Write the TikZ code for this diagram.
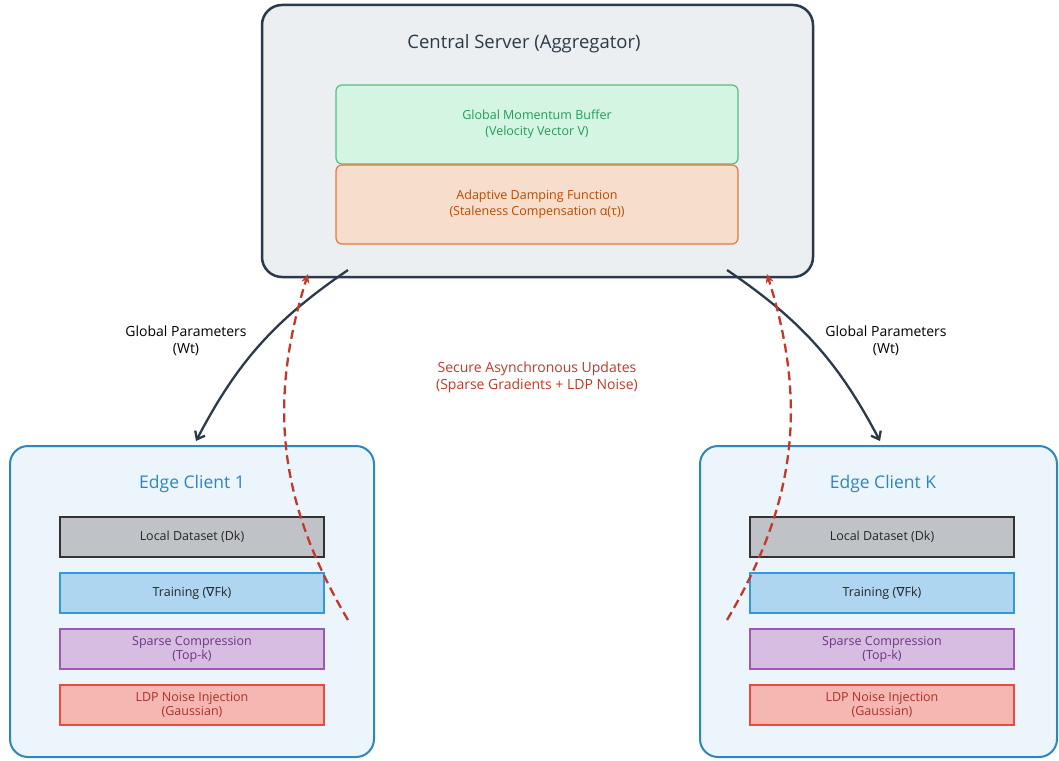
\documentclass[tikz,border=0pt]{standalone}
\usepackage{fontspec}
\setmainfont{Open Sans}
\newfontfamily\symfont{DejaVu Sans}
\usepackage{tikz}
\usetikzlibrary{arrows.meta,positioning,calc}

\definecolor{navy}{HTML}{2B3A4A}
\definecolor{srvfill}{HTML}{ECEFF1}
\definecolor{cliblue}{HTML}{2E86C1}
\definecolor{clifill}{HTML}{EBF5FB}
\definecolor{updred}{HTML}{C0392B}
\definecolor{momfill}{HTML}{D5F5E3}
\definecolor{momline}{HTML}{52BE80}
\definecolor{momtext}{HTML}{239B56}
\definecolor{dmpfill}{HTML}{F6DDCC}
\definecolor{dmpline}{HTML}{E5793D}
\definecolor{dmptext}{HTML}{BA4A00}
\definecolor{datfill}{HTML}{BFC3C7}
\definecolor{trnfill}{HTML}{AED6F1}
\definecolor{trnline}{HTML}{3498DB}
\definecolor{sprfill}{HTML}{D7BDE2}
\definecolor{sprline}{HTML}{9B59B6}
\definecolor{sprtext}{HTML}{6C3483}
\definecolor{ldpfill}{HTML}{F5B7B1}
\definecolor{ldpline}{HTML}{E74C3C}
\definecolor{ldptext}{HTML}{A93226}

\begin{document}
\begin{tikzpicture}[x=1pt, y=-1pt,
    server/.style={draw=navy, line width=2.5pt, fill=srvfill, rounded corners=20pt, minimum width=551pt, minimum height=272pt},
    client/.style={draw=cliblue, line width=2pt, fill=clifill, rounded corners=18pt, minimum height=311pt},
    module/.style={line width=1.2pt, rounded corners=6pt, align=center, minimum width=402pt, minimum height=79pt, font=\fontsize{12.5}{16}\selectfont},
    stage/.style={draw, line width=1.2pt, align=center, minimum width=264pt, minimum height=40pt, font=\fontsize{12.5}{14}\selectfont},
    title/.style={font=\fontsize{18.5}{22}\selectfont},
    note/.style={align=center, font=\fontsize{14}{17}\selectfont},
    down/.style={-{Straight Barb[length=7pt,width=11pt]}, navy, line width=2.3pt},
    up/.style={-{Stealth[length=9pt,width=8pt]}, updred, line width=2.3pt, dash pattern=on 9pt off 5pt}
  ]
    \useasboundingbox[fill=white] (0,0) rectangle (1059,760);

    % server side
    \node[server] (srv) at (537.5,141) {};
    \node[title, text=navy] (srvtitle) at (524,44) {Central Server (Aggregator)};
    \node[module, draw=momline, fill=momfill, text=momtext] (momentum) at (537,124.5) {Global Momentum Buffer\\(Velocity Vector V)};
    \node[module, draw=dmpline, fill=dmpfill, text=dmptext] (damping) at (537,204.5) {Adaptive Damping Function\\(Staleness Compensation α(τ))};

    % edge clients
    \node[client, minimum width=364pt] (cl1) at (192,601.5) {};
    \node[client, minimum width=357pt] (clk) at (878.5,601.5) {};
    \node[title, text=cliblue, font=\fontsize{17.5}{21}\selectfont] (cl1title) at (192,484) {Edge Client 1};
    \node[title, text=cliblue, font=\fontsize{17.5}{21}\selectfont] (clktitle) at (883,484) {Edge Client K};

    \foreach \c/\x in {a/192, b/882} {
      \node[stage, draw=black!80, fill=datfill, text=black!85] (data\c) at (\x,537) {Local Dataset (Dk)};
      \node[stage, draw=trnline, fill=trnfill, text=black!85] (train\c) at (\x,593) {Training ({\symfont ∇}Fk)};
      \node[stage, draw=sprline, fill=sprfill, text=sprtext] (sparse\c) at (\x,649) {Sparse Compression\\(Top-k)};
      \node[stage, draw=ldpline, fill=ldpfill, text=ldptext] (ldp\c) at (\x,705) {LDP Noise Injection\\(Gaussian)};
    }

    % connector ends
    \coordinate (outL) at (348,270);
    \coordinate (outR) at (727,270);
    \coordinate (inL) at (196,441);
    \coordinate (inR) at (880,441);
    \coordinate (srcL) at (348,620);
    \coordinate (srcR) at (727,620);
    \coordinate (dstL) at (308,274);
    \coordinate (dstR) at (767,274);

    \draw[down] (outL) to[bend right=14] (inL);
    \draw[down] (outR) to[bend left=14] (inR);
    \draw[up] (srcL) to[bend left=24] (dstL);
    \draw[up] (srcR) to[bend right=24] (dstR);

    \node[note] (parL) at (186,341) {Global Parameters\\(Wt)};
    \node[note] (parR) at (886,341) {Global Parameters\\(Wt)};
    \node[note, text=updred] (upd) at (537,377) {Secure Asynchronous Updates\\(Sparse Gradients + LDP Noise)};
\end{tikzpicture}
\end{document}
